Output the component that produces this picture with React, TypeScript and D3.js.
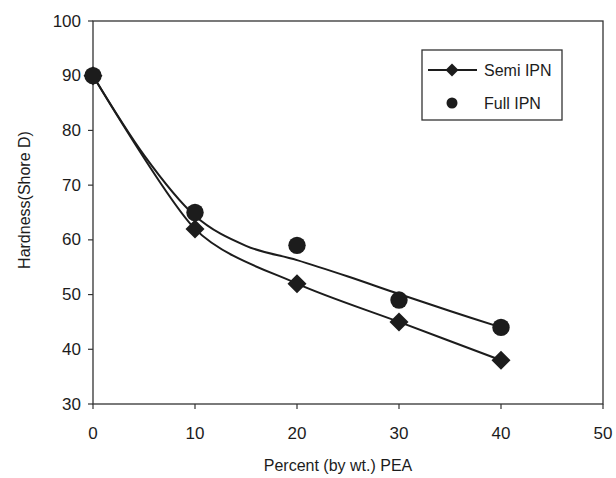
import React from "react";
import * as d3 from "d3";

const xTicks = [0, 10, 20, 30, 40, 50];
const yTicks = [30, 40, 50, 60, 70, 80, 90, 100];

const pea = [0, 10, 20, 30, 40];
const semiIPN = [90, 62, 52, 45, 38];
const fullIPN = [90, 65, 59, 49, 44];

// Full IPN fitted curve
const fullCurveX = [0, 5, 10, 15, 20, 25, 30, 35, 40];
const fullCurveY = [90, 75.5, 64.4, 58.9, 56.3, 53.3, 50.1, 47.0, 44.0];

const W = 616;
const H = 478;
const FONT = "'Liberation Sans', Arial, sans-serif";
const INK = "#1c1c1c";

export default function App() {
  const x = d3.scaleLinear().domain([0, 50]).range([93, 603]);
  const y = d3.scaleLinear().domain([30, 100]).range([404, 21]);

  const semiPts: [number, number][] = pea.map((v, i) => [x(v), y(semiIPN[i])]);
  const fullPts: [number, number][] = fullCurveX.map((v, i) => [x(v), y(fullCurveY[i])]);

  const line = d3.line().curve(d3.curveCardinal.tension(0.2));
  const lineFull = d3.line().curve(d3.curveCatmullRom.alpha(0));

  const diamond = (cx: number, cy: number, r: number) =>
    `M${cx},${cy - r}L${cx + r},${cy}L${cx},${cy + r}L${cx - r},${cy}Z`;

  return (
    <svg
      width={W}
      height={H}
      style={{ position: "absolute", left: 0, top: 0, background: "#fff" }}
      fontFamily={FONT}
    >
      {/* plot frame */}
      <rect
        x={x(0)}
        y={y(100)}
        width={x(50) - x(0)}
        height={y(30) - y(100)}
        fill="none"
        stroke="#333"
        strokeWidth={1.3}
      />
      {/* y ticks */}
      {yTicks.map((t) => (
        <g key={"y" + t}>
          <line x1={x(0) - 5} x2={x(0)} y1={y(t)} y2={y(t)} stroke="#333" strokeWidth={1.2} />
          <text
            x={x(0) - 12}
            y={y(t)}
            textAnchor="end"
            dominantBaseline="central"
            fontSize={17}
            fill={INK}
          >
            {t}
          </text>
        </g>
      ))}
      {/* x ticks */}
      {xTicks.map((t) => (
        <g key={"x" + t}>
          <line x1={x(t)} x2={x(t)} y1={y(30)} y2={y(30) + 5} stroke="#333" strokeWidth={1.2} />
          <text x={x(t)} y={433} textAnchor="middle" dominantBaseline="central" fontSize={17} fill={INK}>
            {t}
          </text>
        </g>
      ))}
      {/* axis titles */}
      <text x={338} y={465} textAnchor="middle" dominantBaseline="central" fontSize={16} fill={INK}>
        Percent (by wt.) PEA
      </text>
      <text
        transform={`translate(24,${200}) rotate(-90)`}
        textAnchor="middle"
        dominantBaseline="central"
        fontSize={16}
        fill={INK}
      >
        Hardness(Shore D)
      </text>

      {/* curves */}
      <path d={lineFull(fullPts) || ""} fill="none" stroke={INK} strokeWidth={2} />
      <path d={line(semiPts) || ""} fill="none" stroke={INK} strokeWidth={2} />

      {/* markers */}
      {pea.map((v, i) => (
        <path key={"d" + i} d={diamond(x(v), y(semiIPN[i]), 9.5)} fill={INK} />
      ))}
      {pea.map((v, i) => (
        <circle key={"c" + i} cx={x(v)} cy={y(fullIPN[i])} r={8.7} fill={INK} />
      ))}

      {/* legend */}
      <rect x={422} y={50} width={140} height={70} fill="#fff" stroke="#333" strokeWidth={1.3} />
      <line x1={428} x2={477} y1={70} y2={70} stroke={INK} strokeWidth={2} />
      <path d={diamond(452, 70, 6.5)} fill={INK} />
      <text x={484} y={70} dominantBaseline="central" fontSize={16} fill={INK}>
        Semi IPN
      </text>
      <circle cx={452} cy={103} r={5.5} fill={INK} />
      <text x={484} y={103} dominantBaseline="central" fontSize={16} fill={INK}>
        Full IPN
      </text>
    </svg>
  );
}
